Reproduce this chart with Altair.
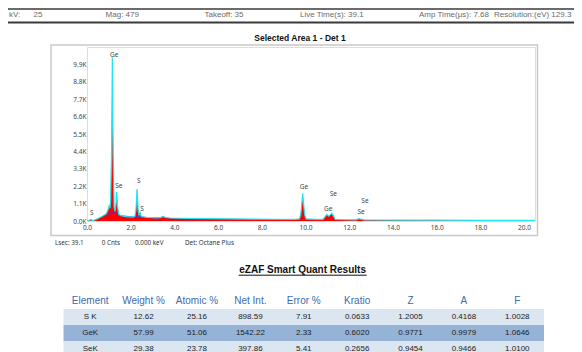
import altair as alt
import pandas as pd

# ---------------- data ----------------
HEADER_ITEMS = ["kV:", "25", "Mag: 479", "Takeoff:  35", "Live Time(s):  39.1",
                "Amp Time(\u03bcs): 7.68", "Resolution:(eV) 129.3"]
TITLE = "Selected Area 1 - Det 1"

ENERGY = [0.00, 0.12, 0.18, 0.24, 0.35, 0.50, 0.70, 0.88, 0.96, 1.01, 1.05, 1.08,
          1.12, 1.16, 1.20, 1.24, 1.28, 1.32, 1.36, 1.40, 1.45, 1.55, 1.80, 2.10,
          2.19, 2.24, 2.29, 2.34, 2.38, 2.43, 2.48, 2.70, 3.20, 3.40, 3.48, 3.56,
          3.80, 4.50, 5.50, 6.50, 7.50, 8.50, 9.50, 9.72, 9.78, 9.83, 9.87, 9.91,
          9.96, 10.02, 10.50, 10.80, 10.88, 10.97, 11.06, 11.14, 11.20, 11.27,
          11.36, 11.80, 12.30, 12.40, 12.45, 12.52, 12.70, 14.00, 16.00, 18.00, 20.50]
COUNTS = [0, 40, 110, 30, 60, 160, 300, 450, 700, 950, 800, 1300,
          4000, 10350, 4000, 900, 600, 1000, 1850, 900, 420, 330, 280, 250,
          290, 700, 2020, 700, 380, 540, 290, 230, 200, 230, 300, 220,
          190, 170, 150, 135, 120, 110, 105, 130, 400, 1100, 1750, 1100,
          400, 130, 100, 100, 250, 420, 300, 400, 490, 350,
          100, 80, 75, 130, 150, 120, 70, 60, 50, 45, 40]

FIT_ENERGY = [0.90, 1.00, 1.10, 1.25, 1.40, 1.50, 2.20, 2.45, 2.60, 3.30, 3.48, 3.65]
FIT_COUNTS = [300, 450, 600, 520, 430, 340, 250, 300, 230, 200, 270, 190]

PEAK_LABELS = ["S", "Ge", "Se", "S", "S", "Ge", "Se", "Ge", "Se", "Se"]
PEAK_LABEL_KEV = [0.22, 1.25, 1.46, 2.37, 2.52, 9.93, 11.27, 11.04, 12.72, 12.54]
PEAK_LABEL_CNT = [530, 10500, 2230, 2530, 760, 2130, 1710, 740, 1250, 550]

X_TICKS = [0, 2, 4, 6, 8, 10, 12, 14, 16, 18, 20]
Y_TICKS = [0, 1100, 2200, 3300, 4400, 5500, 6600, 7700, 8800, 9900]

STATUS_ITEMS = ["Lsec: 39.1", "0 Cnts", "0.000 keV", "Det: Octane Plus"]

TABLE_TITLE = "eZAF Smart Quant Results"
COLUMNS = ["Element", "Weight %", "Atomic %", "Net Int.", "Error %", "Kratio", "Z", "A", "F"]
ELEMENTS = ["S K", "GeK", "SeK"]
WEIGHT = ["12.62", "57.99", "29.38"]
ATOMIC = ["25.16", "51.06", "23.78"]
NET_INT = ["898.59", "1542.22", "397.86"]
ERROR = ["7.91", "2.33", "5.41"]
KRATIO = ["0.0633", "0.6020", "0.2656"]
Z_VAL = ["1.2005", "0.9771", "0.9454"]
A_VAL = ["0.4168", "0.9979", "0.9466"]
F_VAL = ["1.0028", "1.0646", "1.0100"]

# ---------------- layout helpers (page px -> view px) ----------------
OX, OY = 87, 47
def px(x):
    return x - OX
def py(y):
    return y - OY

FONT = "Liberation Sans"
SMALL = "Noto Sans"

# ---------------- spectrum ----------------
spec_df = pd.DataFrame({"keV": ENERGY, "cnt": COUNTS})
fit_df = pd.DataFrame({"keV": FIT_ENERGY, "cnt": FIT_COUNTS})
lbl_df = pd.DataFrame({"keV": PEAK_LABEL_KEV, "cnt": PEAK_LABEL_CNT, "t": PEAK_LABELS})

xs = alt.Scale(domain=[0, 20.5], nice=False, zero=False)
ys = alt.Scale(domain=[0, 11000], nice=False)

x_axis = alt.Axis(values=X_TICKS, format=".1f", grid=False, ticks=False, domain=False,
                  labelFontSize=6.5, labelFont=SMALL, labelColor="#444",
                  labelPadding=3, labelFlush=False, labelOverlap=False, title=None)
y_axis = alt.Axis(values=Y_TICKS, labelExpr="format(datum.value/1000,'.1f')+'K'",
                  grid=False, ticks=False, domain=False,
                  labelFontSize=6.5, labelFont=SMALL, labelColor="#444",
                  labelPadding=1, labelOverlap=False, labelBound=False, title=None)

def X():
    return alt.X("keV:Q", scale=xs, axis=x_axis)
def Y():
    return alt.Y("cnt:Q", scale=ys, axis=y_axis)

area = alt.Chart(spec_df).mark_area(color="#ff0000", opacity=1).encode(x=X(), y=Y())
fit = alt.Chart(fit_df).mark_line(color="#3535ff", strokeWidth=0.8).encode(x=X(), y=Y())
line = alt.Chart(spec_df).mark_line(color="#22e4f0", strokeWidth=1.2).encode(x=X(), y=Y())
labels = alt.Chart(lbl_df).mark_text(fontSize=6.5, font=SMALL, color="#444").encode(
    x=X(), y=Y(), text="t:N")

spectrum = alt.layer(area, fit, line, labels)

# ---------------- table ----------------
cols_vals = [ELEMENTS, WEIGHT, ATOMIC, NET_INT, ERROR, KRATIO, Z_VAL, A_VAL, F_VAL]
recs = []
for i, el in enumerate(ELEMENTS):
    for j, c in enumerate(COLUMNS):
        recs.append({"row": el, "col": c, "t": cols_vals[j][i]})
body_df = pd.DataFrame(recs)
hdr_df = pd.DataFrame({"row": ["hdr"] * len(COLUMNS), "col": COLUMNS, "t": COLUMNS})
bg_df = pd.DataFrame({"row": ELEMENTS})

tx = alt.X("col:N", scale=alt.Scale(domain=COLUMNS, range=[px(63.5), px(544)],
                                    paddingInner=0, paddingOuter=0), axis=None)
ty = alt.Y("row:N", scale=alt.Scale(domain=["hdr"] + ELEMENTS, range=[py(293), py(357)],
                                    paddingInner=0, paddingOuter=0), axis=None)

bg = alt.Chart(bg_df).mark_rect().encode(
    y=ty, x=alt.value(px(63.5)), x2=alt.value(px(544)),
    color=alt.condition(alt.datum.row == "GeK", alt.value("#95b3d7"), alt.value("#dce6f1")))
hdr_txt = alt.Chart(hdr_df).mark_text(fontSize=10, font=FONT, color="#3d6aad").encode(
    x=tx, y=ty, text="t:N")
body_txt = alt.Chart(body_df).mark_text(fontSize=8, font=FONT, color="#222").encode(
    x=tx, y=ty, text="t:N")
table = alt.layer(bg, hdr_txt, body_txt)

# ---------------- decorations / text ----------------
def text_at(s, x, y, size, color="#333", weight="normal", align="left", font=FONT):
    return alt.Chart(pd.DataFrame({"t": [s]})).mark_text(
        fontSize=size, font=font, color=color, fontWeight=weight, align=align, baseline="middle"
    ).encode(x=alt.value(px(x)), y=alt.value(py(y)), text="t:N")

def hrule(x1, x2, y, color, w):
    return alt.Chart(pd.DataFrame({"a": [0]})).mark_rule(color=color, strokeWidth=w).encode(
        x=alt.value(px(x1)), x2=alt.value(px(x2)), y=alt.value(py(y)))

frame = alt.Chart(pd.DataFrame({"a": [0]})).mark_rect(
    filled=False, stroke="#c9c9c9", strokeWidth=1.5).encode(
    x=alt.value(px(51)), x2=alt.value(px(537.5)), y=alt.value(py(45)), y2=alt.value(py(235.5)))

decor = []
decor.append(hrule(8, 574, 9, "#3a3a3a", 1.6))
decor.append(hrule(8, 574, 22.5, "#3a3a3a", 2))
HEADER_X = [9, 33.6, 105.6, 204.5, 300, 419, 494]
for s, x in zip(HEADER_ITEMS, HEADER_X):
    decor.append(text_at(s, x, 14.5, 8, color="#6a6a6a"))

decor.append(text_at(TITLE, 300, 37.5, 8.5, color="#111", weight="bold", align="center"))

STATUS_X = [55, 101.7, 135, 185]
for s, x in zip(STATUS_ITEMS, STATUS_X):
    decor.append(text_at(s, x, 242.5, 6.3, color="#333", font=SMALL))

decor.append(text_at(TABLE_TITLE, 302.6, 269.8, 10, color="#111", weight="bold", align="center"))
decor.append(hrule(238.7, 366.7, 275.2, "#111", 1))

chart = alt.layer(frame, spectrum, table, *decor).resolve_scale(
    x="independent", y="independent"
).properties(
    width=448, height=174,
    padding={"left": 79, "top": 39, "right": 39, "bottom": 131},
    autosize="none",
).configure_view(stroke="#8484ff", strokeWidth=1.5).configure(background="white")

chart.save("out.html", embed_options={"renderer": "svg", "actions": False})
